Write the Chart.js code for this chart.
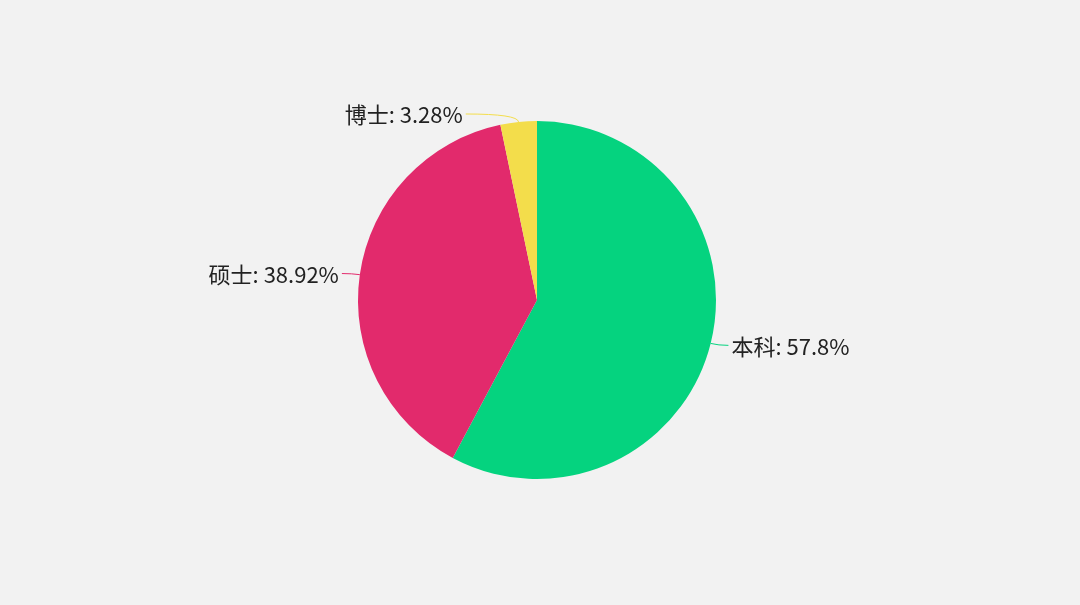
<!DOCTYPE html>
<html>
<head>
<meta charset="utf-8">
<script src="https://cdn.jsdelivr.net/npm/chart.js@4/dist/chart.umd.min.js"></script>
<style>
  html, body { margin: 0; padding: 0; background: #f2f2f2; }
  #wrap { width: 1080px; height: 605px; }
</style>
</head>
<body>
<div id="wrap"><canvas id="degreePie" width="1080" height="605"></canvas></div>
<script>
var degreeLabels = ['本科', '硕士', '博士'];
var degreeShares = [57.8, 38.92, 3.28];
var sliceColors = ['#05d37f', '#e22a6c', '#f3dd4b'];

// draws "name: value%" outside each slice with a short bent leader line
var outsideLabels = {
    id: 'outsideLabels',
    afterDatasetsDraw: function(chart, args, opts) {
        var ctx = chart.ctx;
        var meta = chart.getDatasetMeta(0);
        ctx.save();
        ctx.font = opts.font;
        ctx.textBaseline = 'middle';
        meta.data.forEach(function(arc, i) {
            var mid = (arc.startAngle + arc.endAngle) / 2;
            var cos = Math.cos(mid), sin = Math.sin(mid);
            var r = arc.outerRadius;
            var x0 = arc.x + cos * r, y0 = arc.y + sin * r;
            var x1 = arc.x + cos * (r + opts.len1), y1 = arc.y + sin * (r + opts.len1);
            var dir = cos >= 0 ? 1 : -1;
            var len2 = opts.len2[i] || opts.len2[0];
            var x2 = x1 + dir * len2;
            ctx.strokeStyle = sliceColors[i];
            ctx.lineWidth = 1;
            ctx.beginPath();
            ctx.moveTo(x0, y0);
            ctx.quadraticCurveTo(x1, y1, x2, y1);
            ctx.stroke();
            var text = degreeLabels[i] + ': ' + degreeShares[i] + '%';
            ctx.fillStyle = opts.color;
            ctx.textAlign = dir > 0 ? 'left' : 'right';
            ctx.fillText(text, x2 + dir * 3, y1 + 1);
        });
        ctx.restore();
    }
};

var ctx = document.getElementById('degreePie').getContext('2d');
var degreePie = new Chart(ctx, {
    type: 'pie',
    data: {
        labels: degreeLabels,
        datasets: [{
            data: degreeShares,
            backgroundColor: sliceColors,
            borderWidth: 0
        }]
    },
    options: {
        responsive: false,
        animation: false,
        layout: { padding: { top: 121, bottom: 126, left: 0, right: 6 } },
        plugins: {
            legend: { display: false },
            tooltip: { enabled: false },
            outsideLabels: {
                font: '22px "Noto Sans CJK SC", "Noto Sans", sans-serif',
                color: '#222222',
                len1: 8,
                len2: [10, 10, 52]
            }
        }
    },
    plugins: [outsideLabels]
});
</script>
</body>
</html>
